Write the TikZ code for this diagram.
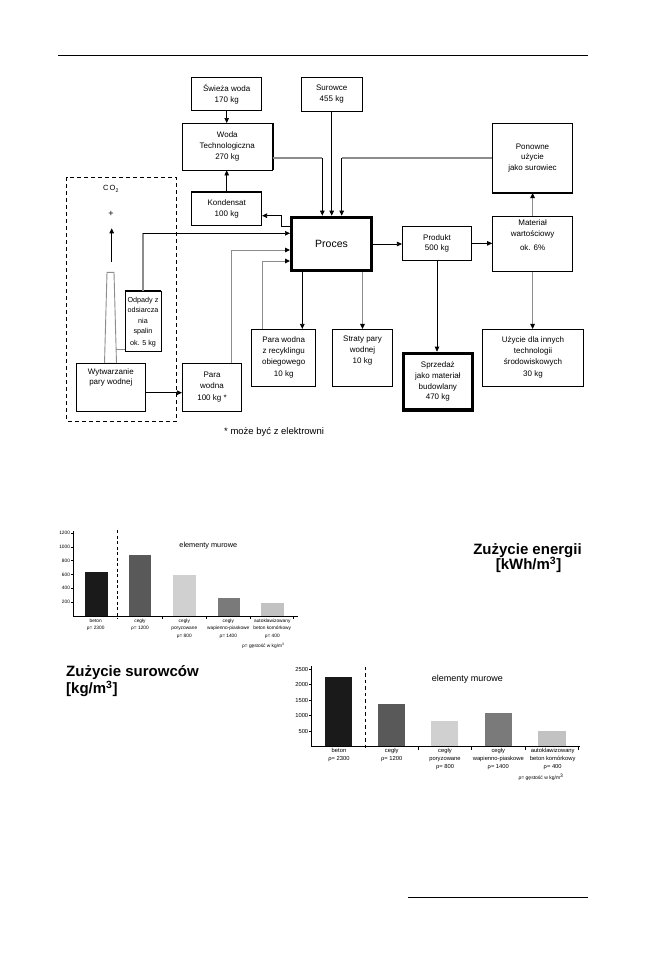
\documentclass[tikz,border=0pt]{standalone}
\usepackage{fontspec}
\setmainfont{Liberation Sans}
\usetikzlibrary{arrows.meta}
\definecolor{lg}{HTML}{8C8C8C}
\definecolor{barA}{HTML}{1A1A1A}
\definecolor{barB}{HTML}{595959}
\definecolor{barC}{HTML}{D0D0D0}
\definecolor{barD}{HTML}{7A7A7A}
\definecolor{barE}{HTML}{C2C2C2}
\newcommand{\bxt}[4]{\parbox[c][#2][#3]{#1}{\centering #4\par}}
\begin{document}
\begin{tikzpicture}[x=1pt,y=-1pt,
 box/.style={draw=black,line width=0.7pt,inner sep=0pt,fill=white,font=\fontsize{8}{10.8}\selectfont},
 heavy/.style={box,line width=3pt},
 arr/.style={-{Triangle[length=5pt,width=4.5pt]},line width=0.7pt},
 garr/.style={-{Triangle[length=5pt,width=4.5pt,color=black]},draw=lg,line width=1pt},
 gthick/.style={draw=lg,line width=2.6pt},
 gthin/.style={draw=lg,line width=1.4pt},
 dash1/.style={dash pattern=on 4pt off 3pt,line width=0.7pt},
 tick/.style={line width=0.5pt},
 ttl/.style={font=\bfseries\fontsize{15}{17}\selectfont,inner sep=0pt}]
\useasboundingbox (0,0) rectangle (659,961);

% page rules
\draw[line width=0.9pt] (58,55) -- (588,55);
\draw[line width=0.9pt] (408,897) -- (588,897);

% ---------------- flow diagram ----------------
\draw[dash1] (66.7,177.3) rectangle (176.7,421);
\node[font=\fontsize{7.5}{9}\selectfont] (co2) at (111,189) {C\,O\textsubscript{2}};
\node[font=\fontsize{9}{9}\selectfont] (plus) at (111,214) {+};
\coordinate (a0) at (111.7,261.7);
\coordinate (a1) at (111.7,228.3);
\draw[arr] (a0) -- (a1);
\draw[lg,line width=0.9pt,fill=white] (107,272.3) -- (114,272.3) -- (116.5,363.3) -- (104.5,363.3) -- cycle;

\node[box] (swieza) at (226.7,94) {\bxt{70pt}{33.4pt}{c}{Świeża woda\\170 kg}};
\node[box] (surowce) at (331.7,94.2) {\bxt{61.5pt}{33.7pt}{c}{Surowce\\455 kg}};
\node[box] (woda) at (227.3,146.7) {\bxt{90pt}{46.7pt}{c}{Woda\\Technologiczna\\270 kg}};
\node[box] (kond) at (226.7,209) {\bxt{70pt}{33.4pt}{c}{Kondensat\\[1pt]100 kg}};
\node[heavy] (proces) at (331.5,244) {\bxt{80pt}{53.6pt}{c}{\fontsize{10.5}{12}\selectfont Proces}};
\node[box] (ponowne) at (532.5,158) {\bxt{80.4pt}{69.4pt}{c}{Ponowne\\użycie\\jako surowiec}};
\node[box] (material) at (532.6,243.8) {\bxt{80.2pt}{55.7pt}{t}{\vspace*{4pt}Materiał\\wartościowy\\[3pt]ok. 6\%}};
\node[box] (produkt) at (437,243.35) {\bxt{69.4pt}{33.3pt}{c}{Produkt\\500 kg}};
\node[box,font=\fontsize{7.2}{10.5}\selectfont] (odpady) at (143,321.7) {\bxt{36pt}{60pt}{c}{Odpady z\\odsiarcza\\nia\\spalin\\[1pt]ok. 5 kg}};
\node[box] (wytw) at (110.85,387.15) {\bxt{69.7pt}{47.7pt}{t}{\vspace*{5pt}Wytwarzanie\\pary wodnej}};
\node[box] (para) at (212,387.15) {\bxt{59.4pt}{47.7pt}{c}{Para\\wodna\\[1.5pt]100 kg *}};
\node[box] (recykl) at (283.7,357.65) {\bxt{64pt}{56.7pt}{c}{Para wodna\\z recyklingu\\obiegowego\\[2pt]10 kg}};
\node[box] (straty) at (362.5,357.65) {\bxt{60.4pt}{56.7pt}{t}{\vspace*{7pt}Straty pary\\wodnej\\10 kg}};
\node[heavy,line width=3.5pt] (sprzedaz) at (437.85,381.7) {\bxt{69pt}{56.5pt}{c}{Sprzedaż\\jako materiał\\budowlany\\470 kg}};
\node[box] (uzycie) at (533,357.65) {\bxt{100.6pt}{56.7pt}{c}{Użycie dla innych\\technologii\\środowiskowych\\[2pt]30 kg}};

% heavier edges as in the scan
\draw[line width=1.8pt] (woda.north east) -- (woda.south east);
\draw[line width=1.8pt] (kond.north west) -- (kond.north east);
\draw[line width=1.8pt] (ponowne.south west) -- (ponowne.south east);
\draw[line width=1.8pt] (odpady.north west) -- (odpady.north east);

% connectors
\draw[arr] (swieza.south) -- (swieza.south |- woda.north);
\draw[arr] (kond.north) -- (kond.north |- woda.south);
\draw[arr] (surowce.south) -- (surowce.south |- proces.north);
\coordinate (jw) at (322.3,158);
\coordinate (jp) at (341.7,158);
\draw[gthick] (woda.east |- jw) -- (jw);
\draw[arr] (jw) -- (jw |- proces.north);
\draw[gthick] (ponowne.west |- jp) -- (jp);
\draw[arr] (jp) -- (jp |- proces.north);

\draw[arr] (proces.east) -- (proces.east -| produkt.west);
\draw[arr] (produkt.east) -- (produkt.east -| material.west);
\draw[garr] (material.north) -- (material.north |- ponowne.south);
\draw[garr] (material.south) -- (material.south |- uzycie.north);
\draw[arr] (produkt.south) -- (produkt.south |- sprzedaz.north);
\draw[arr] (302.3,0 |- proces.south) -- (302.3,0 |- recykl.north);
\draw[garr] (straty.north |- proces.south) -- (straty.north);

\coordinate (k1) at (281.7,226.7);
\coordinate (k2) at (281.7,215.7);
\draw[arr] (proces.west |- k1) -- (k1) -- (k2) -- (kond.east |- k2);
\coordinate (o1) at (143,233.3);
\draw[gthin] (odpady.north) -- (o1);
\draw[arr] (o1) -- (proces.west |- o1);
\coordinate (p1) at (231.7,250);
\draw[gthin] (p1 |- para.north) -- (p1);
\draw[garr] (p1) -- (proces.west |- p1);
\coordinate (r1) at (262.3,261);
\draw[gthin] (r1 |- recykl.north) -- (r1);
\draw[garr] (r1) -- (proces.west |- r1);
\coordinate (w1) at (0,392.7);
\draw[arr] (wytw.east |- w1) -- (para.west |- w1);
\coordinate (c1) at (116,349.3);
\draw[lg,line width=1pt] (c1) -- (odpady.west |- c1);

\node[font=\fontsize{9.5}{11}\selectfont,anchor=west,inner sep=0pt] (note) at (224,431.7) {* może być z elektrowni};

% ---------------- chart 1: energy ----------------
\fill[barA] (85,571.7) rectangle (107.7,616.3);
\fill[barB] (129.3,555) rectangle (151,616.3);
\fill[barC] (173.3,575) rectangle (195.7,616.3);
\fill[barD] (217.7,597.7) rectangle (239.7,616.3);
\fill[barE] (261,602.7) rectangle (283.7,616.3);
\draw[line width=0.6pt] (73.3,531) -- (73.3,616.3) -- (298.3,616.3);
\foreach \v/\y in {1200/533.3,1000/547,800/560.7,600/574.7,400/588.3,200/602.3} {
  \draw[tick] (70.8,\y) -- (73.3,\y);
  \node[anchor=east,inner sep=0.6pt,font=\fontsize{4.8}{5}\selectfont] (ea\v) at (70.8,\y) {\v};
}
\foreach \x in {162.7,206,250,293.5} \draw[tick] (\x,616.3) -- (\x,619);
\draw[dash pattern=on 3pt off 2.5pt,line width=0.6pt] (117.3,530) -- (117.3,618.7);
\begin{scope}[every node/.style={anchor=north,align=center,inner sep=0pt,font=\fontsize{4.8}{7.6}\selectfont}]
\node (eb1) at (95.7,618.6) {beton\\ρ= 2300};
\node (eb2) at (140,618.6) {cegły\\ρ= 1200};
\node (eb3) at (184.3,618.6) {cegły\\poryzowane\\ρ= 800};
\node (eb4) at (228.3,618.6) {cegły\\wapienno-piaskowe\\ρ= 1400};
\node (eb5) at (272.3,618.6) {autoklawizowany\\beton komórkowy\\ρ= 400};
\end{scope}
\node[font=\fontsize{7.3}{8}\selectfont] (et) at (208.3,546) {elementy murowe};
\node[font=\fontsize{4.8}{5}\selectfont] (ed) at (263.3,646) {ρ= gęstość w kg/m\textsuperscript{3}};

\node[ttl] (t1) at (527.5,551) {Zużycie energii};
\node[ttl] (t1b) at (528.5,565) {[kWh/m\textsuperscript{3}]};

% ---------------- chart 2: raw materials ----------------
\node[ttl,anchor=west] (t2) at (66,673) {Zużycie surowców};
\node[ttl,anchor=west] (t2b) at (66,689) {[kg/m\textsuperscript{3}]};

\fill[barA] (325,677.3) rectangle (352.3,746.7);
\fill[barB] (378.3,704) rectangle (405,746.7);
\fill[barC] (431,721.3) rectangle (458.3,746.7);
\fill[barD] (485,712.7) rectangle (512,746.7);
\fill[barE] (538.3,731) rectangle (565.7,746.7);
\draw[line width=0.6pt] (311.7,666) -- (311.7,746.7) -- (580,746.7);
\foreach \v/\y in {2500/669,2000/684.7,1500/700,1000/715.3,500/731} {
  \draw[tick] (309,\y) -- (311.7,\y);
  \node[anchor=east,inner sep=0.6pt,font=\fontsize{5.8}{6}\selectfont] (sa\v) at (309,\y) {\v};
}
\foreach \x in {418.3,471.7,525,578} \draw[tick] (\x,746.7) -- (\x,749.5);
\draw[dash pattern=on 3.5pt off 3pt,line width=0.6pt] (365,666.7) -- (365,747.7);
\begin{scope}[every node/.style={anchor=north,align=center,inner sep=0pt,font=\fontsize{5.8}{8}\selectfont}]
\node (sb1) at (339,748.4) {beton\\ρ= 2300};
\node (sb2) at (391.7,748.4) {cegły\\ρ= 1200};
\node (sb3) at (445,748.4) {cegły\\poryzowane\\ρ= 800};
\node (sb4) at (498.3,748.4) {cegły\\wapienno-piaskowe\\ρ= 1400};
\node (sb5) at (552.7,748.4) {autoklawizowany\\beton komórkowy\\ρ= 400};
\end{scope}
\node[font=\fontsize{9}{10}\selectfont] (st) at (467.3,679) {elementy murowe};
\node[font=\fontsize{5}{6}\selectfont] (sd) at (541,777.3) {ρ= gęstość w kg/m\textsuperscript{3}};
\end{tikzpicture}
\end{document}
